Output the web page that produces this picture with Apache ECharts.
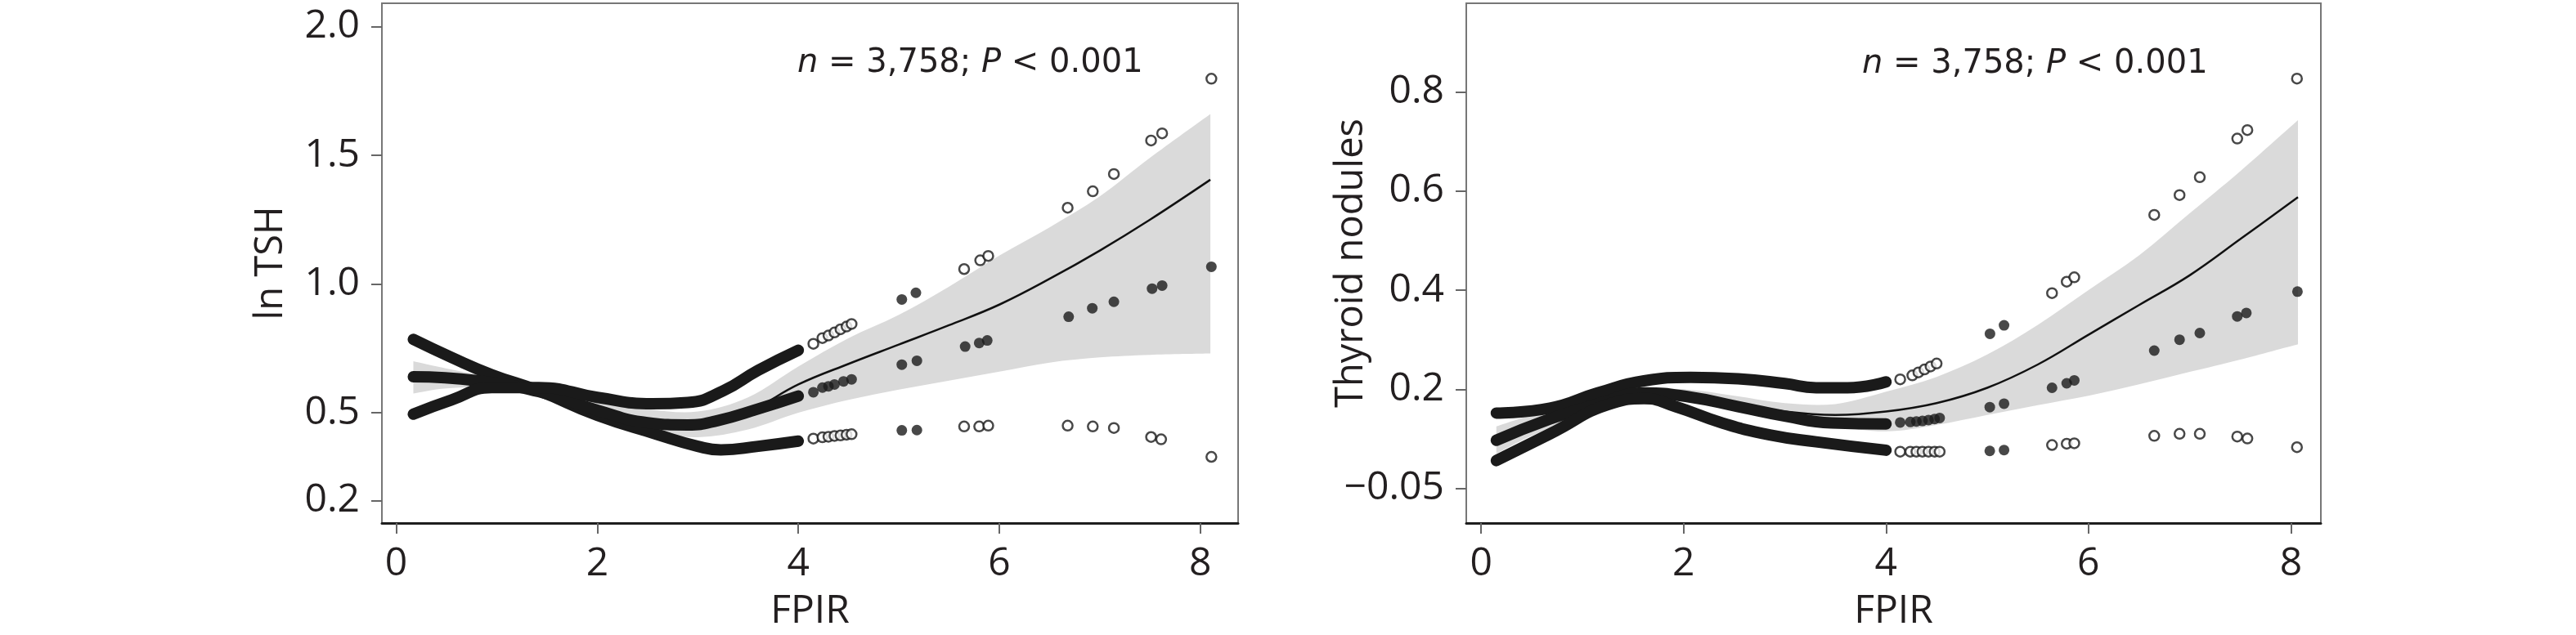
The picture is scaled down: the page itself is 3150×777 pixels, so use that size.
<!DOCTYPE html>
<html lang="en">
<head>
    <meta charset="UTF-8">
    <title>FPIR curves</title>
    <script type="text/javascript" src="https://cdn.jsdelivr.net/npm/echarts@6/dist/echarts.min.js"></script>
    <style>
        html, body { margin: 0; padding: 0; background: #fff; }
        #main { width: 3150px; height: 777px; }
    </style>
</head>
<body>
<div id="main"></div>
<script type="text/javascript">
    // ---- left panel: ln TSH ----
    var leftCurveX = [0.17, 0.5, 1.0, 1.5, 2.0, 2.5, 3.0, 3.5, 4.0, 4.5, 5.0, 5.5, 6.0, 6.5, 7.0, 7.5, 8.1];
    var leftFit    = [0.64, 0.635, 0.615, 0.58, 0.515, 0.47, 0.455, 0.505, 0.61, 0.69, 0.765, 0.84, 0.92, 1.02, 1.13, 1.25, 1.405];
    var leftHigh   = [0.70, 0.672, 0.635, 0.60, 0.555, 0.515, 0.505, 0.56, 0.68, 0.79, 0.88, 0.99, 1.11, 1.22, 1.34, 1.49, 1.66];
    var leftLow    = [0.575, 0.595, 0.595, 0.56, 0.475, 0.425, 0.405, 0.435, 0.50, 0.55, 0.59, 0.625, 0.66, 0.695, 0.715, 0.725, 0.73];

    // dense point bands (thousands of overlapping points, drawn as thick strokes)
    var leftBandA = [[0.17, 0.785], [0.55, 0.715], [0.95, 0.648], [1.42, 0.585], [2.0, 0.49], [2.58, 0.418], [3.0, 0.37], [3.23, 0.356], [3.6, 0.37], [4.0, 0.39]];
    var leftBandB = [[0.17, 0.64], [0.8, 0.625], [1.42, 0.582], [2.0, 0.51], [2.5, 0.462], [2.9, 0.453], [3.2, 0.47], [3.6, 0.515], [4.0, 0.565]];
    var leftBandC = [[0.17, 0.495], [0.55, 0.55], [0.95, 0.598], [1.42, 0.598], [2.0, 0.56], [2.55, 0.535], [2.9, 0.54], [3.25, 0.585], [3.6, 0.665], [4.0, 0.743]];

    var leftOpen = [
        [4.15, 0.768], [4.24, 0.79], [4.30, 0.80], [4.36, 0.812], [4.42, 0.824], [4.48, 0.835], [4.53, 0.845],
        [5.65, 1.058], [5.81, 1.092], [5.89, 1.109], [6.68, 1.296], [6.93, 1.36], [7.14, 1.427], [7.51, 1.557], [7.62, 1.585], [8.11, 1.797],
        [4.15, 0.40], [4.24, 0.405], [4.30, 0.407], [4.36, 0.41], [4.42, 0.412], [4.48, 0.415], [4.53, 0.417],
        [5.65, 0.447], [5.80, 0.447], [5.89, 0.45], [6.68, 0.45], [6.93, 0.447], [7.14, 0.441], [7.51, 0.406], [7.61, 0.397], [8.11, 0.329]
    ];
    var leftSolid = [
        [4.15, 0.58], [4.24, 0.598], [4.30, 0.603], [4.36, 0.61], [4.45, 0.622], [4.53, 0.63],
        [5.03, 0.687], [5.18, 0.702], [5.66, 0.757], [5.80, 0.771], [5.88, 0.781], [6.69, 0.873], [6.925, 0.906],
        [7.14, 0.931], [7.52, 0.982], [7.62, 0.994], [8.11, 1.067],
        [5.03, 0.94], [5.17, 0.966], [5.03, 0.432], [5.18, 0.433]
    ];

    var leftYTickPos  = [0.16, 0.5, 1.0, 1.5, 2.0];
    var leftYTickText = ['0.2', '0.5', '1.0', '1.5', '2.0'];

    // ---- right panel: Thyroid nodules ----
    var rightCurveX = [0.15, 0.5, 1.0, 1.5, 2.0, 2.5, 3.0, 3.5, 4.0, 4.5, 5.0, 5.5, 6.0, 6.5, 7.0, 7.5, 8.07];
    var rightFit    = [0.097, 0.127, 0.162, 0.188, 0.188, 0.172, 0.155, 0.148, 0.155, 0.172, 0.203, 0.25, 0.31, 0.37, 0.43, 0.503, 0.5875];
    var rightHigh   = [0.125, 0.148, 0.178, 0.20, 0.20, 0.187, 0.172, 0.17, 0.195, 0.225, 0.27, 0.33, 0.40, 0.47, 0.555, 0.64, 0.743];
    var rightLow    = [0.07, 0.106, 0.146, 0.176, 0.176, 0.157, 0.138, 0.125, 0.115, 0.128, 0.148, 0.168, 0.187, 0.21, 0.235, 0.26, 0.291];

    var rightBandT = [[0.15, 0.152], [0.68, 0.162], [1.15, 0.1925], [1.61, 0.217], [2.07, 0.224], [2.54, 0.221], [3.0, 0.2115], [3.31, 0.203], [3.62, 0.203], [4.0, 0.215]];
    var rightBandM = [[0.15, 0.097], [0.68, 0.14], [1.15, 0.17], [1.61, 0.1925], [2.07, 0.184], [2.54, 0.165], [3.0, 0.146], [3.46, 0.132], [4.0, 0.13]];
    var rightBandB = [[0.15, 0.056], [0.68, 0.11], [1.3, 0.172], [1.61, 0.181], [1.92, 0.165], [2.38, 0.132], [2.85, 0.108], [3.31, 0.094], [4.0, 0.077]];

    var rightOpen = [
        [4.14, 0.22], [4.26, 0.228], [4.32, 0.234], [4.38, 0.24], [4.44, 0.246], [4.50, 0.252],
        [5.64, 0.394], [5.785, 0.417], [5.86, 0.426], [6.65, 0.552], [6.90, 0.592], [7.10, 0.628], [7.47, 0.706], [7.57, 0.723], [8.06, 0.827],
        [4.14, 0.074], [4.24, 0.074], [4.30, 0.074], [4.36, 0.074], [4.42, 0.074], [4.48, 0.074], [4.53, 0.074],
        [5.64, 0.0875], [5.785, 0.090], [5.86, 0.091], [6.65, 0.106], [6.90, 0.110], [7.10, 0.110], [7.47, 0.1045], [7.57, 0.1006], [8.06, 0.083]
    ];
    var rightSolid = [
        [4.14, 0.133], [4.24, 0.134], [4.30, 0.135], [4.36, 0.136], [4.42, 0.138], [4.48, 0.14], [4.53, 0.142],
        [5.025, 0.164], [5.166, 0.171], [5.64, 0.203], [5.785, 0.212], [5.86, 0.218], [6.65, 0.278], [6.90, 0.300],
        [7.10, 0.3135], [7.47, 0.347], [7.56, 0.354], [8.065, 0.397],
        [5.027, 0.312], [5.166, 0.329], [5.025, 0.0756], [5.166, 0.0773]
    ];

    var rightYTickPos  = [0, 0.2, 0.4, 0.6, 0.8];
    var rightYTickText = ['\u22120.05', '0.2', '0.4', '0.6', '0.8'];

    var xTicks = [0, 2, 4, 6, 8];

    var FONT = 'Open Sans';
    var INK = '#231f20';

    function zip(xs, ys) {
        return xs.map(function (x, i) { return [x, ys[i]]; });
    }

    // catmull-rom through pixel points, as cubic bezier path commands
    function curveCmds(p) {
        var d = '';
        for (var i = 0; i < p.length - 1; i++) {
            var p0 = p[i - 1] || p[i], p1 = p[i], p2 = p[i + 1], p3 = p[i + 2] || p[i + 1];
            var c1x = p1[0] + (p2[0] - p0[0]) / 6, c1y = p1[1] + (p2[1] - p0[1]) / 6;
            var c2x = p2[0] - (p3[0] - p1[0]) / 6, c2y = p2[1] - (p3[1] - p1[1]) / 6;
            d += ' C' + c1x + ' ' + c1y + ' ' + c2x + ' ' + c2y + ' ' + p2[0] + ' ' + p2[1];
        }
        return d;
    }

    // grey confidence band between low and high
    function bandSeries(idx, xs, low, high) {
        return {
            type: 'custom',
            xAxisIndex: idx, yAxisIndex: idx,
            silent: true,
            z: 1,
            data: xs.map(function (x, i) { return [x, low[i], high[i]]; }),
            renderItem: function (params, api) {
                if (params.dataIndex !== 0) return null;
                var up = xs.map(function (x, i) { return api.coord([x, high[i]]); });
                var dn = xs.map(function (x, i) { return api.coord([x, low[i]]); }).reverse();
                var d = 'M' + up[0][0] + ' ' + up[0][1] + curveCmds(up) +
                    ' L' + dn[0][0] + ' ' + dn[0][1] + curveCmds(dn) + ' Z';
                return {
                    type: 'path',
                    shape: { pathData: d },
                    style: { fill: '#dadada', stroke: null }
                };
            }
        };
    }

    function thick(idx, data) {
        return {
            type: 'line', xAxisIndex: idx, yAxisIndex: idx,
            data: data, smooth: 0.5, showSymbol: false, silent: true, z: 4,
            lineStyle: { color: '#1a1a1a', width: 14, cap: 'round' }
        };
    }

    function panelSeries(idx, xs, fit, low, high, bands, open, solid) {
        var list = [bandSeries(idx, xs, low, high), {
            type: 'line', xAxisIndex: idx, yAxisIndex: idx,
            data: zip(xs, fit), smooth: 0.4, showSymbol: false, silent: true, z: 3,
            lineStyle: { color: '#111', width: 2.5 }
        }];
        bands.forEach(function (b) { list.push(thick(idx, b)); });
        list.push({
            type: 'scatter', xAxisIndex: idx, yAxisIndex: idx, data: open, z: 5,
            symbol: 'circle', symbolSize: 12,
            itemStyle: { color: '#fff', borderColor: '#1a1a1a', borderWidth: 2.5 }
        });
        list.push({
            type: 'scatter', xAxisIndex: idx, yAxisIndex: idx, data: solid, z: 5,
            symbol: 'circle', symbolSize: 13,
            itemStyle: { color: '#1a1a1a' }
        });
        return list;
    }

    function xAxisOpt(idx, min, max) {
        return {
            type: 'value', gridIndex: idx, min: min, max: max,
            name: 'FPIR', nameLocation: 'middle', nameGap: 84, nameMoveOverlap: false,
            nameTextStyle: { fontFamily: FONT, fontSize: 48, color: INK },
            splitLine: { show: false },
            axisLine: { onZero: false, lineStyle: { color: '#1e1e1e', width: 3 } },
            axisTick: { customValues: xTicks, length: 13, lineStyle: { color: '#666', width: 2 } },
            axisLabel: { customValues: xTicks, margin: 26, fontFamily: FONT, fontSize: 48, color: INK }
        };
    }

    function yAxisOpt(idx, min, max, name, gap, pos, text) {
        return {
            type: 'value', gridIndex: idx, min: min, max: max,
            name: name, nameLocation: 'middle', nameRotate: 90, nameGap: gap, nameMoveOverlap: false,
            nameTextStyle: { fontFamily: FONT, fontSize: 47, color: INK },
            splitLine: { show: false },
            axisLine: { show: true, onZero: false, lineStyle: { color: '#777', width: 2 } },
            axisTick: { show: true, customValues: pos, length: 13, lineStyle: { color: '#666', width: 2 } },
            axisLabel: {
                customValues: pos, margin: 27, fontFamily: FONT, fontSize: 48, color: INK,
                formatter: function (v) { return text[pos.indexOf(v)]; }
            }
        };
    }

    var annot = {
        fontWeight: 'normal',
        rich: {
            i: { fontFamily: 'DejaVu Sans', fontSize: 40, fontStyle: 'italic', fontWeight: 'normal', color: INK, lineHeight: 50 },
            r: { fontFamily: 'DejaVu Sans', fontSize: 40, fontWeight: 'normal', color: INK, lineHeight: 50 }
        }
    };
    var annotText = '{i|n}{r| = 3,758; }{i|P}{r| < 0.001}';

    var myChart = echarts.init(document.getElementById('main'));
    myChart.setOption({
        animation: false,
        backgroundColor: '#fff',
        title: [
            { text: annotText, left: 975, top: 53, padding: 0, textStyle: annot },
            { text: annotText, left: 2277, top: 54, padding: 0, textStyle: annot }
        ],
        grid: [
            { left: 467, top: 4, width: 1047, height: 639, show: true, borderColor: '#777', borderWidth: 2 },
            { left: 1793, top: 4, width: 1045, height: 639, show: true, borderColor: '#777', borderWidth: 2 }
        ],
        xAxis: [xAxisOpt(0, -0.143, 8.376), xAxisOpt(1, -0.147, 8.296)],
        yAxis: [
            yAxisOpt(0, 0.072, 2.09, 'ln TSH', 112, leftYTickPos, leftYTickText),
            yAxisOpt(1, -0.07, 0.979, 'Thyroid nodules', 117, rightYTickPos, rightYTickText)
        ],
        series: [].concat(
            panelSeries(0, leftCurveX, leftFit, leftLow, leftHigh, [leftBandA, leftBandB, leftBandC], leftOpen, leftSolid),
            panelSeries(1, rightCurveX, rightFit, rightLow, rightHigh, [rightBandT, rightBandM, rightBandB], rightOpen, rightSolid)
        )
    });
</script>
</body>
</html>
